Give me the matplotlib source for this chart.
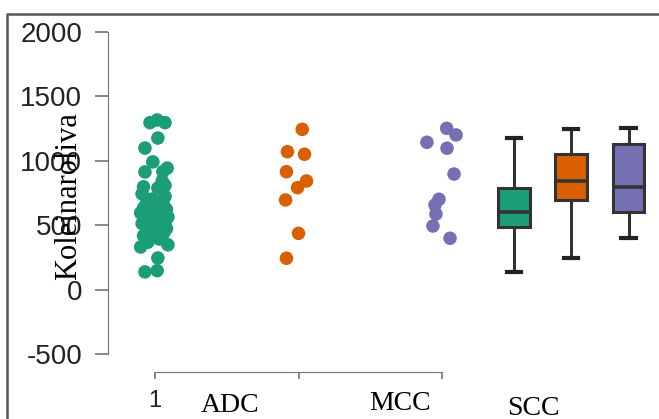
import matplotlib
matplotlib.use('Agg')
import matplotlib.pyplot as plt
from matplotlib.lines import Line2D

# wartosci
green_y = [140, 150, 248, 333, 350, 370, 395, 420, 440, 460, 475, 485,
           492, 505, 515, 525, 535, 545, 555, 565, 575, 585, 592, 598,
           605, 615, 625, 635, 648, 660, 672, 688, 705, 725, 745, 790,
           800, 810, 845, 915, 918, 945, 993, 1100, 1178, 1297, 1318, 1297]
green_jit = [-0.07, 0.015, 0.02, -0.10, 0.09, -0.05, 0.03, -0.08, 0.06, -0.02, 0.08, -0.06,
             0.01, 0.05, -0.09, 0.07, -0.03, 0.04, -0.07, 0.09, 0.0, -0.05, 0.06, -0.1,
             0.03, -0.04, 0.08, -0.08, 0.02, 0.06, -0.06, 0.04, -0.02, 0.07, -0.09, 0.02,
             -0.08, 0.07, 0.05, -0.07, 0.055, 0.085, -0.015, -0.07, 0.02, -0.035, 0.015, 0.07]

orange_y = [1245, 1072, 1052, 917, 845, 793, 698, 439, 246]
orange_jit = [0.026, -0.077, 0.042, -0.084, 0.056, -0.007, -0.09, 0.0, -0.084]

purple_y = [1253, 1202, 1145, 1099, 899, 703, 659, 589, 496, 401]
purple_jit = [0.033, 0.098, -0.105, 0.035, 0.084, -0.021, -0.049, -0.042, -0.063, 0.056]

groups = ['ADC', 'MCC', 'SCC']
colors = ['#1b9e77', '#d95f02', '#7570b3']
box_pos = [3.5, 3.9, 4.3]

plt.rcParams['font.family'] = ['Liberation Sans', 'DejaVu Sans']

fig = plt.figure(figsize=(6.59, 4.19), dpi=100)
ax = fig.add_axes([108/659, 47/419, 551/659, 352/419])

data = [green_y, orange_y, purple_y]
jits = [green_jit, orange_jit, purple_jit]
for i in range(3):
    xs = [i + 1 + j for j in jits[i]]
    ax.scatter(xs, data[i], s=95, color=colors[i], edgecolors='none', zorder=3)

bp = ax.boxplot(data, positions=box_pos, widths=0.22, patch_artist=True,
                showfliers=False, capwidths=0.1, manage_ticks=False,
                medianprops=dict(color='#333333', linewidth=2.6),
                whiskerprops=dict(color='#333333', linewidth=2.2),
                capprops=dict(color='#222222', linewidth=3),
                boxprops=dict(edgecolor='#333333', linewidth=2.2))
for patch, c in zip(bp['boxes'], colors):
    patch.set_facecolor(c)

ax.set_xlim(1 - 47/143.5, 1 + 504/143.5)
ax.set_ylim(-636, 2093)

ax.spines['top'].set_visible(False)
ax.spines['right'].set_visible(False)
ax.spines['left'].set_bounds(-500, 2000)
ax.spines['bottom'].set_bounds(1, 3)
ax.spines['left'].set_color('#7a7270')
ax.spines['bottom'].set_color('#7a7270')

ax.set_yticks([-500, 0, 500, 1000, 1500, 2000])
ax.set_yticklabels(['-500', '0', '500', '1000', '1500', '2000'])
ax.set_xticks([1, 2, 3])
ax.set_xticklabels(['1', '', ''])
ax.tick_params(axis='y', length=9.5, width=1.2, color='#7a7270', labelsize=20,
               labelcolor='#222222', pad=9)
ax.tick_params(axis='x', length=5, width=1.2, color='#7a7270', labelsize=17,
               labelcolor='#222222', pad=8)

ax.set_ylabel('Koleinaroliva', family='Liberation Serif', fontsize=22, labelpad=-45)

# nazwy grup pod osia
lab_x = [1.52, 2.71, 3.64]
lab_y = [-895, -880, -920]
for name, x, y in zip(groups, lab_x, lab_y):
    ax.text(x, y, name, family='Liberation Serif', fontsize=20, ha='center',
            va='center', clip_on=False)

fig.add_artist(Line2D([7/659, 7/659, 1], [0, 1 - 14/419, 1 - 14/419],
                      color='#555555', linewidth=1.8))

plt.savefig('out.png', dpi=100)
